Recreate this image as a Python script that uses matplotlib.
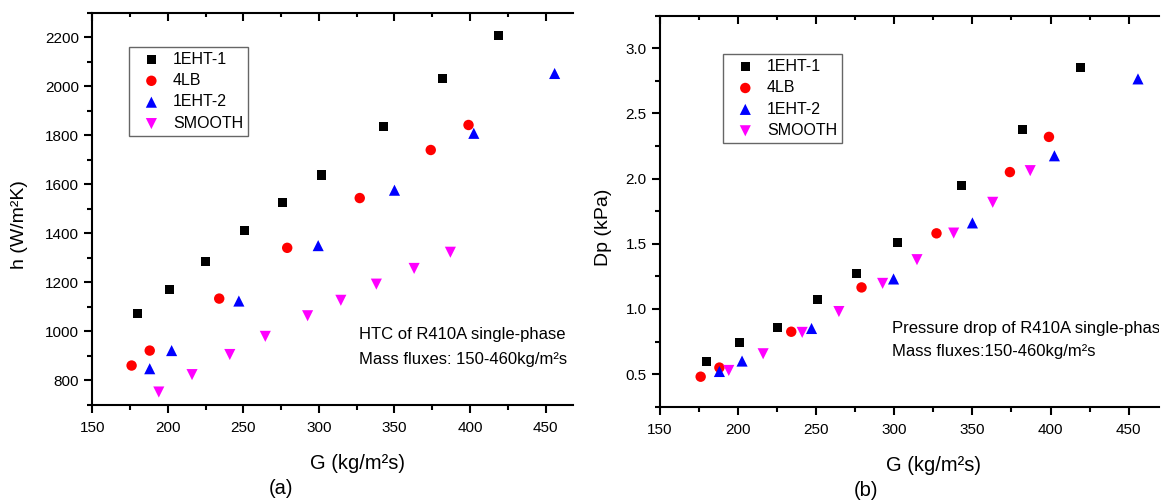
import matplotlib
matplotlib.use('Agg')
import matplotlib.pyplot as plt
from matplotlib.ticker import MultipleLocator

plt.rcParams['font.family'] = ['Liberation Sans', 'DejaVu Sans']

# ----------------- data -----------------
labels = ['1EHT-1', '4LB', '1EHT-2', 'SMOOTH']

g_eht1 = [180, 201, 225, 251, 276, 302, 343, 382, 419]
h_eht1 = [1075, 1170, 1285, 1411, 1526, 1638, 1836, 2030, 2205]
dp_eht1 = [0.60, 0.74, 0.86, 1.07, 1.27, 1.51, 1.95, 2.38, 2.85]

g_4lb = [176, 188, 234, 279, 327, 374, 399]
h_4lb = [861, 922, 1134, 1341, 1544, 1740, 1842]
dp_4lb = [0.48, 0.55, 0.825, 1.165, 1.58, 2.05, 2.32]

g_eht2 = [188, 202.5, 247, 299.5, 350, 402.5, 456]
h_eht2 = [848, 922, 1124, 1350, 1576, 1808, 2052]
dp_eht2 = [0.52, 0.60, 0.85, 1.23, 1.66, 2.175, 2.765]

g_smooth = [194, 216, 241, 264.5, 292.5, 314.5, 338, 363, 387]
h_smooth = [753, 824, 906, 980, 1064, 1127, 1193, 1257, 1323]
dp_smooth = [0.528, 0.656, 0.82, 0.98, 1.196, 1.378, 1.582, 1.818, 2.061]

x_sets = [g_eht1, g_4lb, g_eht2, g_smooth]
h_sets = [h_eht1, h_4lb, h_eht2, h_smooth]
dp_sets = [dp_eht1, dp_4lb, dp_eht2, dp_smooth]

styles = [('s', '#000000', 6.5), ('o', '#ff0000', 7.5),
          ('^', '#0000ff', 8.0), ('v', '#ff00ff', 8.0)]

fig = plt.figure(figsize=(11.67, 5.03), dpi=100)
ax1 = fig.add_axes([0.0791, 0.1948, 0.4117, 0.780])
ax2 = fig.add_axes([0.5656, 0.1915, 0.4276, 0.7773])


def style_axes(ax, xmax, ylim, ymajor, yminor, fmt):
    ax.set_xlim(150, xmax)
    ax.set_ylim(*ylim)
    ax.spines['right'].set_visible(False)
    ax.spines['top'].set_visible(False)
    for s in ('left', 'bottom'):
        ax.spines[s].set_linewidth(1.5)
    ax.xaxis.set_major_locator(MultipleLocator(50))
    ax.xaxis.set_minor_locator(MultipleLocator(25))
    ax.yaxis.set_major_locator(MultipleLocator(ymajor))
    ax.yaxis.set_minor_locator(MultipleLocator(yminor))
    if fmt:
        ax.yaxis.set_major_formatter(fmt)
    ax.tick_params(which='major', direction='out', length=6, width=1.5,
                   labelsize=11, pad=3.5)
    ax.tick_params(axis='x', which='major', pad=5.5)
    ax.tick_params(which='minor', direction='out', length=3.5, width=1.5)
    # top axis: ticks pointing inward, no labels
    top = ax.secondary_xaxis('top')
    top.spines['top'].set_linewidth(1.5)
    top.xaxis.set_major_locator(MultipleLocator(50))
    top.xaxis.set_minor_locator(MultipleLocator(25))
    top.tick_params(which='major', direction='in', length=5.5, width=1.5,
                    labeltop=False)
    top.tick_params(which='minor', direction='in', length=2.7, width=1.5)


for ax, ysets in ((ax1, h_sets), (ax2, dp_sets)):
    for xs, ys, lab, (m, c, ms) in zip(x_sets, ysets, labels, styles):
        ax.scatter(xs, ys, marker=m, s=ms ** 2, color=c, edgecolors='none',
                   label=lab, zorder=3)
    leg_loc = (0.0764, 0.913) if ax is ax1 else (0.126, 0.902)
    leg = ax.legend(loc='upper left', bbox_to_anchor=leg_loc, fontsize=11.5,
                    frameon=True, fancybox=False, edgecolor='#404040',
                    borderpad=0.3, labelspacing=0.4, handletextpad=0.25,
                    handlelength=2.2, borderaxespad=0, scatterpoints=1)
    leg.get_frame().set_linewidth(1.0)

style_axes(ax1, 468, (700, 2300), 200, 100, None)
style_axes(ax2, 469.5, (0.25, 3.25), 0.5, 0.25,
           matplotlib.ticker.FormatStrFormatter('%.1f'))

ax1.set_xlabel('G (kg/m²s)', fontsize=14.5)
ax1.set_ylabel('h (W/m²K)', fontsize=14)
ax1.xaxis.set_label_coords(0.551, -0.125)
ax1.yaxis.set_label_coords(-0.134, 0.46)
ax2.set_xlabel('G (kg/m²s)', fontsize=14.5)
ax2.set_ylabel('Dp (kPa)', fontsize=14)
ax2.xaxis.set_label_coords(0.548, -0.125)
ax2.yaxis.set_label_coords(-0.096, 0.46)

ax1.text(0.556, 0.18, 'HTC of R410A single-phase', transform=ax1.transAxes,
         fontsize=12, va='center', ha='left')
ax1.text(0.556, 0.117, 'Mass fluxes: 150-460kg/m²s', transform=ax1.transAxes,
         fontsize=12, va='center', ha='left')
ax2.text(0.464, 0.200, 'Pressure drop of R410A single-phase', transform=ax2.transAxes,
         fontsize=12, va='center', ha='left', clip_on=True)
ax2.text(0.464, 0.140, 'Mass fluxes:150-460kg/m²s', transform=ax2.transAxes,
         fontsize=12, va='center', ha='left', clip_on=True)

fig.text(281 / 1167, 1 - 489 / 503, '(a)', fontsize=14.5, ha='center', va='center')
fig.text(866 / 1167, 1 - 490 / 503, '(b)', fontsize=14.5, ha='center', va='center')

fig.savefig('out.png', dpi=100)
